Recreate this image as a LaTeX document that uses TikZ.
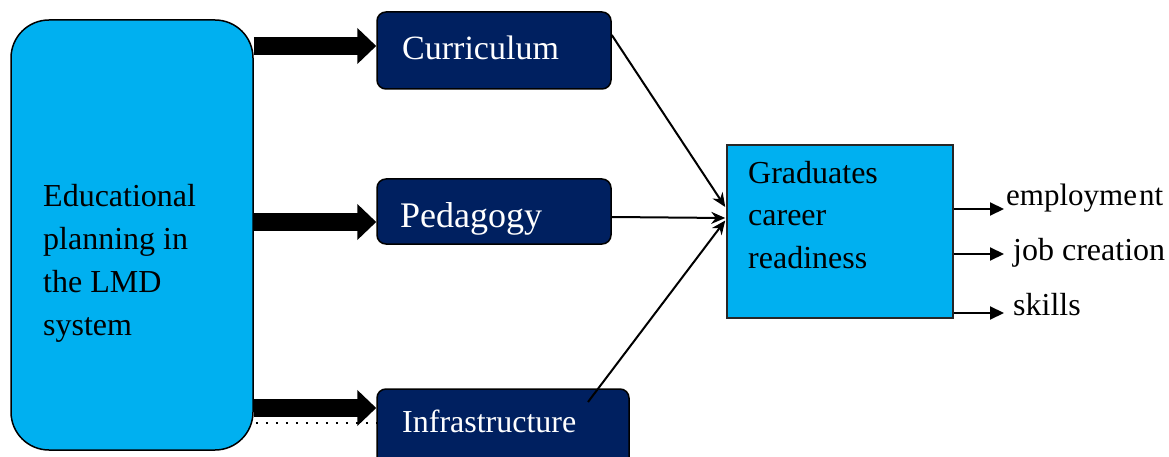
\documentclass[tikz,border=0pt]{standalone}
\usepackage{fontspec}
\setmainfont{Liberation Serif}
\usetikzlibrary{arrows.meta}
\definecolor{cyanbox}{HTML}{00B0F0}
\definecolor{navybox}{HTML}{002060}
\tikzset{
  edubox/.style={draw=black, line width=1.5pt, fill=cyanbox, rounded corners=38pt,
    minimum width=242pt, minimum height=430pt, inner sep=0pt},
  navyrect/.style={draw=black, line width=1.5pt, fill=navybox, rounded corners=9pt, inner sep=0pt},
  gradbox/.style={draw=black!85, line width=1.5pt, fill=cyanbox, minimum width=226pt,
    minimum height=173pt, inner sep=0pt},
  blacktext/.style={text=black, inner sep=0pt, align=left, anchor=base west,
    font=\fontsize{32}{43}\selectfont},
  whitetext/.style={text=white, inner sep=0pt, anchor=base west},
  bigarrow/.style={line width=18.5pt, -{Triangle[length=19pt,width=35pt]}},
  thinarrow/.style={line width=2pt, -{Stealth[length=14pt,width=12pt]}},
  outarrow/.style={line width=2pt, -{Triangle[length=14pt,width=13pt]}},
  dotline/.style={line width=2.4pt, dash pattern=on 2.4pt off 7.6pt},
}
\begin{document}
\begin{tikzpicture}[x=1pt,y=-1pt]
\useasboundingbox (0,0) rectangle (1169,457);
\clip (0,0) rectangle (1169,457);
% boxes
\node[edubox] (edu) at (132,235) {};
\node[blacktext] (edutext) at (43,335) {Educational\\planning in\\the LMD\\system};
\node[navyrect, minimum width=234pt, minimum height=77pt] (cur) at (494,50.5) {};
\node[whitetext, font=\fontsize{34}{40}\selectfont] (curt) at (402,60) {Curriculum};
\node[navyrect, minimum width=234pt, minimum height=65pt] (ped) at (494,211.5) {};
\node[whitetext, font=\fontsize{36}{40}\selectfont] (pedt) at (400,227) {Pedagogy};
\node[navyrect, minimum width=252pt, minimum height=90pt] (inf) at (503,434) {};
\node[whitetext, font=\fontsize{32}{40}\selectfont] (inft) at (402,432) {Infrastructure};
\node[gradbox] (gr) at (840,231.5) {};
\node[blacktext, font=\fontsize{32}{42.5}\selectfont] (grt) at (748,268) {Graduates\\career\\readiness};
% output labels
\node[blacktext, font=\fontsize{31}{40}\selectfont] (emp) at (1006,205) {employme\hspace{2pt}nt};
\node[blacktext] (job) at (1013,260) {job creation};
\node[blacktext] (sk) at (1013,315) {skills};
% big arrows
\coordinate (ca) at ([yshift=4.5pt]cur.west);
\coordinate (pa) at ([yshift=-10.5pt]ped.west);
\coordinate (ia) at ([yshift=26pt]inf.west);
\draw[bigarrow] (edu.east |- ca) -- (ca);
\draw[bigarrow] (edu.east |- pa) -- (pa);
\draw[bigarrow] (edu.east |- ia) -- (ia);
% dotted line
\coordinate (dl) at ([yshift=11pt]inf.west);
\draw[dotline] ([xshift=2pt]edu.east |- dl) -- (dl);
% lines into graduates
\coordinate (g1) at ([yshift=24.5pt,xshift=-1pt]gr.west);
\coordinate (g2) at ([yshift=13.5pt,xshift=-1pt]gr.west);
\coordinate (g3) at ([yshift=11pt,xshift=-1pt]gr.west);
\draw[thinarrow] ([yshift=15.5pt]cur.east) -- (g1);
\draw[thinarrow] ([yshift=-5.5pt]ped.east) -- (g2);
\draw[thinarrow] ([xshift=85pt,yshift=32pt]inf.center) -- (g3);
% output arrows
\coordinate (o1) at (1004,209);
\coordinate (o2) at (1004,254);
\coordinate (o3) at (1004,313);
\draw[outarrow] (gr.east |- o1) -- (o1);
\draw[outarrow] (gr.east |- o2) -- (o2);
\draw[outarrow] (gr.east |- o3) -- (o3);
\end{tikzpicture}
\end{document}
